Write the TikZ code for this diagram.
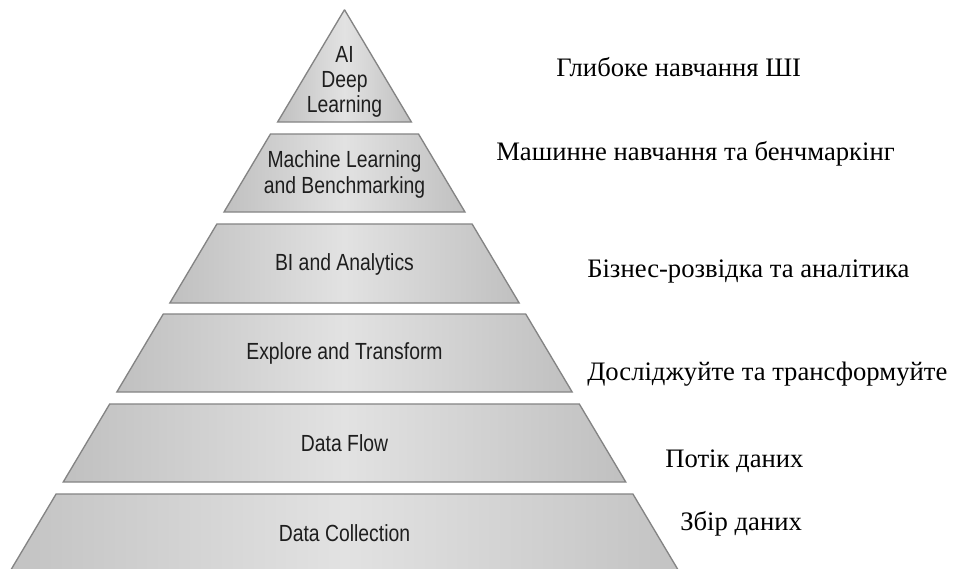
\documentclass[tikz,border=0pt]{standalone}
\usepackage{fontspec}
\setmainfont{Liberation Serif}
\newfontfamily\pyrfont[FakeStretch=0.83]{Liberation Sans}
\definecolor{pyrdark}{RGB}{192,192,192}
\definecolor{pyrlight}{RGB}{226,226,226}
\definecolor{pyredge}{RGB}{132,132,132}
\definecolor{pyrink}{RGB}{30,30,30}
\newcommand\pyrlayer[2]{%
  \path[layer] ({344.5-0.5955*(#1-9.7)},#1) -- ({344.5+0.5955*(#1-9.7)},#1)
    -- ({344.5+0.5955*(#2-9.7)},#2) -- ({344.5-0.5955*(#2-9.7)},#2) -- cycle;}
\begin{document}
\begin{tikzpicture}[x=0.75pt,y=-0.75pt,
  layer/.style={draw=pyredge, line width=1pt, line join=miter,
    left color=pyrdark, right color=pyrdark, middle color=pyrlight},
  pyrtext/.style={inner sep=0pt, text=pyrink, align=center,
    font=\pyrfont\fontsize{17.5}{18.4}\selectfont},
  uktext/.style={inner sep=0pt, anchor=base west, text=black,
    font=\fontsize{20}{24}\selectfont}]
\useasboundingbox (0,0) rectangle (968,568);
\clip (0,0) rectangle (968,568);
\fill[white] (0,0) rectangle (968,568);
% pyramid layers
\pyrlayer{10}{122}
\pyrlayer{134}{212}
\pyrlayer{224}{303}
\pyrlayer{314}{392}
\pyrlayer{404}{482}
\pyrlayer{494}{620}
% labels inside the pyramid (base anchor = baseline of the last line)
\node[pyrtext, anchor=base] (ai) at (344.5,112) {AI\\Deep\\Learning};
\node[pyrtext, anchor=base, font=\pyrfont\fontsize{17.5}{19.5}\selectfont] (ml) at (344.5,193) {Machine Learning\\and Benchmarking};
\node[pyrtext, anchor=base] (bi) at (344.5,270) {BI and Analytics};
\node[pyrtext, anchor=base] (ex) at (344.5,359) {Explore and Transform};
\node[pyrtext, anchor=base] (df) at (344.5,451) {Data Flow};
\node[pyrtext, anchor=base] (dc) at (344.5,541) {Data Collection};
% Ukrainian labels
\node[uktext] (uai) at (556,76) {Глибоке навчання ШІ};
\node[uktext] (uml) at (496,160) {Машинне навчання та бенчмаркінг};
\node[uktext] (ubi) at (587,277) {Бізнес-розвідка та аналітика};
\node[uktext] (uex) at (587,380) {Досліджуйте та трансформуйте};
\node[uktext] (udf) at (665,467) {Потік даних};
\node[uktext] (udc) at (680,530) {Збір даних};
\end{tikzpicture}
\end{document}
